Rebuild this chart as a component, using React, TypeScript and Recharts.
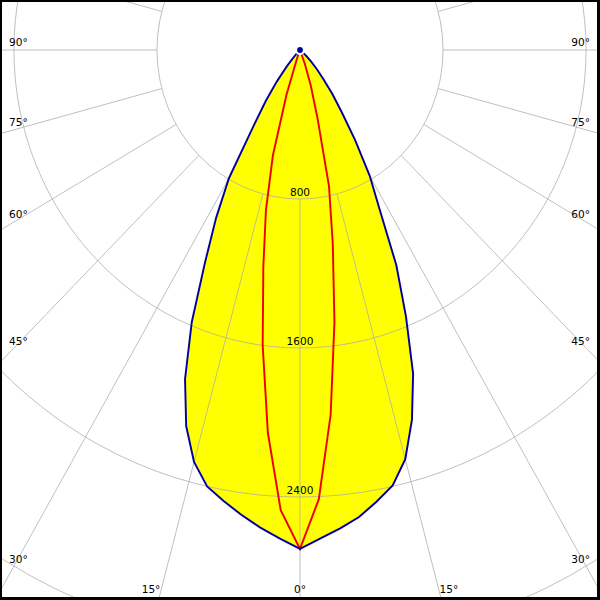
import React from "react";
import {
  PolarAngleAxis,
  PolarGrid,
  PolarRadiusAxis,
  Radar,
  RadarChart,
} from "recharts";

// luminous intensity (cd) every 2.5° from nadir, one list per half plane
const gammaSteps = [
  0, 2.5, 5, 7.5, 10, 12.5, 15, 17.5, 20, 22.5, 25, 27.5, 30, 32.5, 35, 37.5,
  40, 42.5, 45, 47.5, 50,
];
const c0 = [
  2679, 2625, 2578, 2529, 2463, 2395, 2275, 2082, 1850, 1549, 1275, 964, 780,
  575, 405, 295, 200, 140, 90, 50, 20,
];
const c180 = [
  2679, 2625, 2573, 2517, 2459, 2400, 2290, 2117, 1880, 1582, 1255, 1016, 795,
  483, 334, 212, 115, 55, 20, 0, 0,
];
const c90 = [
  2679, 2414, 1966, 1476, 1055, 749, 377, 199, 80, 0, 0, 0, 0, 0, 0, 0, 0, 0, 0,
  0, 0,
];
const c270 = [
  2679, 2473, 2063, 1599, 1181, 880, 586, 250, 50, 0, 0, 0, 0, 0, 0, 0, 0, 0, 0,
  0, 0,
];

const gridAngles = [
  0, 15, 30, 45, 60, 75, 90, 105, 120, 135, 150, 165, 180, 195, 210, 225, 240,
  255, 270, 285, 300, 315, 330, 345,
];
const radiusTicks = [800, 1600, 2400, 3200];

// layout
const SQUEEZE = 0.96; // the diagram is a bit narrower than tall
const W = 626;
const H = 600;
const CX = 313;
const CY = 50;
const PX_PER_CD = 149 / 800;
const FONT = "'DejaVu Sans', Verdana, sans-serif";

const curveData = Array.from({ length: 144 }, (_, i) => {
  const gamma = i * 2.5;
  const right = gammaSteps.indexOf(gamma);
  const left = gammaSteps.indexOf(360 - gamma);
  return {
    gamma,
    plane0: right >= 0 ? c0[right] : left >= 0 ? c180[left] : 0,
    plane90: right >= 0 ? c90[right] : left >= 0 ? c270[left] : 0,
  };
});
const gridData = gridAngles.map((gamma) => ({ gamma }));

const toSvgX = (pageX: number) => CX + (pageX - 300) / SQUEEZE;

function AngleTick(props: any) {
  const { x, y, payload } = props;
  const g = Number(payload.value);
  if (g > 90 && g < 270) return null;
  const label = `${g <= 90 ? g : 360 - g}°`;
  const ux = x - CX;
  const uy = y - CY;
  const style = { fontFamily: FONT, fontSize: 11, fill: "#000" };

  if (Math.abs(ux) > 0.5) {
    const side = ux < 0 ? -1 : 1;
    const t = Math.abs(toSvgX(13) - CX) / Math.abs(ux);
    const yLine = CY + t * uy;
    if (yLine <= 592) {
      return (
        <text
          x={side < 0 ? toSvgX(9) : toSvgX(590)}
          y={yLine - 8}
          textAnchor={side < 0 ? "start" : "end"}
          dominantBaseline="central"
          style={style}
        >
          {label}
        </text>
      );
    }
  }
  const t = (589 - CY) / uy;
  const xLine = CX + t * ux;
  const anchor = Math.abs(ux) <= 0.5 ? "middle" : ux < 0 ? "end" : "start";
  const dx = anchor === "middle" ? 0 : ux < 0 ? -1 : 1;
  return (
    <text
      x={xLine + dx}
      y={589}
      textAnchor={anchor}
      dominantBaseline="central"
      style={style}
    >
      {label}
    </text>
  );
}

function RadiusTick(props: any) {
  const { x, y, payload } = props;
  if (payload.value >= 3200) return null;
  return (
    <text
      x={x}
      y={y - 7}
      textAnchor="middle"
      dominantBaseline="central"
      style={{ fontFamily: FONT, fontSize: 11, fill: "#000" }}
    >
      {payload.value}
    </text>
  );
}

const layer: React.CSSProperties = { position: "absolute", left: 0, top: 0 };
const noMargin = { top: 0, right: 0, bottom: 0, left: 0 };

export default function App() {
  const outer = 3200 * PX_PER_CD;
  return (
    <div
      style={{
        position: "absolute",
        left: 0,
        top: 0,
        width: 600,
        height: 600,
        overflow: "hidden",
        background: "#fff",
      }}
    >
      <div
        style={{
          position: "absolute",
          left: 300 - CX,
          top: 0,
          width: W,
          height: H,
          transform: `scaleX(${SQUEEZE})`,
          transformOrigin: `${CX}px 0`,
        }}
      >
        {/* yellow area of the C0-C180 plane, radius labels */}
        <div style={layer}>
          <RadarChart
            width={W}
            height={H}
            data={curveData}
            cx={CX}
            cy={CY}
            innerRadius={0}
            outerRadius={outer}
            startAngle={-90}
            endAngle={270}
            margin={noMargin}
          >
            <PolarAngleAxis
              dataKey="gamma"
              type="number"
              domain={[0, 360]}
              tick={false}
              axisLine={false}
              tickLine={false}
            />
            <PolarRadiusAxis
              angle={-90}
              domain={[0, 3200]}
              ticks={radiusTicks}
              axisLine={false}
              tick={<RadiusTick />}
            />
            <Radar
              dataKey="plane0"
              stroke="none"
              fill="#ffff00"
              fillOpacity={1}
              isAnimationActive={false}
            />
          </RadarChart>
        </div>

        {/* grid: circles every 800 cd, rays every 15° outside the first circle */}
        <div style={layer}>
          <RadarChart
            width={W}
            height={H}
            data={gridData}
            cx={CX}
            cy={CY}
            innerRadius={800 * PX_PER_CD}
            outerRadius={4000 * PX_PER_CD}
            startAngle={-90}
            endAngle={270}
            margin={noMargin}
          >
            <PolarGrid
              gridType="circle"
              stroke="#aaaaaa"
              strokeOpacity={0.76}
            />
            <PolarAngleAxis
              dataKey="gamma"
              type="number"
              domain={[0, 360]}
              ticks={gridAngles}
              tick={<AngleTick />}
              axisLine={false}
              tickLine={false}
            />
            <PolarRadiusAxis
              angle={-90}
              domain={[800, 4000]}
              ticks={radiusTicks}
              allowDataOverflow
              axisLine={false}
              tick={false}
            />
          </RadarChart>
        </div>

        {/* outlines: C90-C270 red, C0-C180 blue */}
        <div style={layer}>
          <RadarChart
            width={W}
            height={H}
            data={curveData}
            cx={CX}
            cy={CY}
            innerRadius={0}
            outerRadius={outer}
            startAngle={-90}
            endAngle={270}
            margin={noMargin}
          >
            <PolarAngleAxis
              dataKey="gamma"
              type="number"
              domain={[0, 360]}
              tick={false}
              axisLine={false}
              tickLine={false}
            />
            <PolarRadiusAxis
              angle={-90}
              domain={[0, 3200]}
              ticks={radiusTicks}
              axisLine={false}
              tick={false}
            />
            <Radar
              dataKey="plane90"
              stroke="#ee0000"
              strokeWidth={2}
              fill="none"
              fillOpacity={0}
              isAnimationActive={false}
            />
            <Radar
              dataKey="plane0"
              stroke="#0000a0"
              strokeWidth={2}
              fill="none"
              fillOpacity={0}
              isAnimationActive={false}
            />
          </RadarChart>
        </div>
      </div>
      <div
        style={{
          position: "absolute",
          left: 0,
          top: 0,
          width: 600,
          height: 600,
          boxSizing: "border-box",
          borderStyle: "solid",
          borderColor: "#000",
          borderWidth: "2px 3px 3px 2px",
          pointerEvents: "none",
        }}
      />
    </div>
  );
}
